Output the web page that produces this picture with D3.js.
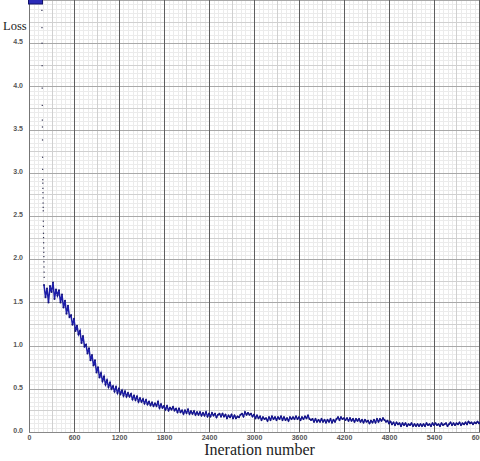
<!DOCTYPE html>
<html><head><meta charset="utf-8">
<script src="https://cdn.jsdelivr.net/npm/d3@7"></script>
<style>html,body{margin:0;padding:0;background:#fff;overflow:hidden}</style>
</head><body>
<svg id="c" width="480" height="461"></svg>
<script>
// ---- data ----
const xTicks = [0, 600, 1200, 1800, 2400, 3000, 3600, 4200, 4800, 5400, 6000];
const yTicks = [0.0, 0.5, 1.0, 1.5, 2.0, 2.5, 3.0, 3.5, 4.0, 4.5];
const xLabel = "Ineration number";
const yLabel = "Loss";

// steep initial descent (sparse samples)
const descentIter = [172,173,174,175,176,177,178,179,180,181,182,183,184,185,186,187,188,189,190,191,192,193,194,195,196,197,198,199,200,201,202];
const descentLoss = [4.88,4.68,4.50,4.24,3.98,3.78,3.61,3.53,3.38,3.18,3.04,2.92,2.88,2.82,2.77,2.71,2.65,2.60,2.56,2.44,2.38,2.30,2.25,2.19,2.13,2.08,2.03,1.97,1.91,1.85,1.79];

// main training curve, sampled every 20 iterations from 200
const mainStart = 200, mainStep = 20;
const mainLoss = [
1.70,1.56,1.66,1.50,1.69,1.62,1.73,1.54,1.65,1.58,
1.64,1.50,1.59,1.44,1.52,1.37,1.46,1.33,1.35,1.24,
1.31,1.17,1.23,1.13,1.17,1.03,1.11,0.99,1.01,0.91,
0.97,0.83,0.89,0.77,0.83,0.69,0.75,0.63,0.68,0.59,
0.64,0.55,0.60,0.52,0.57,0.50,0.53,0.47,0.52,0.45,
0.50,0.44,0.48,0.42,0.47,0.41,0.45,0.41,0.44,0.38,
0.42,0.37,0.41,0.35,0.39,0.35,0.38,0.33,0.37,0.32,
0.35,0.31,0.34,0.30,0.33,0.30,0.35,0.28,0.32,0.28,
0.30,0.26,0.30,0.25,0.28,0.26,0.29,0.25,0.27,0.23,
0.27,0.23,0.25,0.21,0.25,0.22,0.26,0.21,0.24,0.21,
0.24,0.20,0.23,0.20,0.23,0.19,0.22,0.19,0.23,0.18,
0.21,0.18,0.22,0.19,0.21,0.17,0.20,0.21,0.18,0.21,
0.18,0.20,0.16,0.19,0.17,0.20,0.16,0.19,0.16,0.18,
0.17,0.20,0.21,0.18,0.23,0.20,0.22,0.20,0.21,0.18,
0.20,0.16,0.19,0.16,0.18,0.14,0.17,0.15,0.16,0.13,
0.17,0.14,0.18,0.15,0.17,0.14,0.17,0.15,0.18,0.14,
0.17,0.14,0.16,0.13,0.17,0.15,0.17,0.15,0.18,0.15,
0.17,0.14,0.17,0.15,0.18,0.16,0.19,0.15,0.14,0.15,
0.12,0.15,0.12,0.14,0.12,0.15,0.12,0.14,0.11,0.14,
0.12,0.15,0.11,0.14,0.12,0.15,0.17,0.14,0.17,0.15,
0.16,0.14,0.16,0.13,0.16,0.13,0.15,0.12,0.15,0.13,
0.15,0.12,0.14,0.11,0.14,0.12,0.13,0.10,0.13,0.11,
0.14,0.11,0.15,0.12,0.15,0.13,0.16,0.14,0.12,0.13,
0.10,0.12,0.09,0.11,0.08,0.11,0.09,0.10,0.07,0.10,
0.08,0.10,0.07,0.09,0.08,0.10,0.07,0.09,0.07,0.09,
0.07,0.09,0.07,0.09,0.07,0.10,0.08,0.09,0.07,0.10,
0.08,0.10,0.08,0.09,0.07,0.10,0.08,0.09,0.10,0.07,
0.09,0.11,0.08,0.10,0.08,0.10,0.09,0.11,0.08,0.10,
0.09,0.11,0.09,0.12,0.10,0.11,0.09,0.11,0.10,0.12,
0.10,0.11
];

// ---- drawing ----
const svg = d3.select("#c");
svg.append("rect").attr("width",480).attr("height",461).attr("fill","#fff");

const x = d3.scaleLinear().domain([0, 6000]).range([29, 479]);
const y = d3.scaleLinear().domain([0, 5]).range([432, 0]);

const g = svg.append("g");
const minorX = d3.range(0, 6061, 60).filter(v => v % 300 !== 0);
const minorY = d3.range(0, 101, 1).map(v => v * 0.05).filter((v,i) => i % 5 !== 0);
const midX = d3.range(300, 6061, 600);
const midY = d3.range(0.25, 5.01, 0.5);

function vlines(vals, color){
  g.append("g").selectAll("line").data(vals).join("line")
    .attr("x1", d => Math.round(x(d)) + 0.5).attr("x2", d => Math.round(x(d)) + 0.5)
    .attr("y1", 0).attr("y2", y(0))
    .attr("stroke", color).attr("stroke-width", 1);
}
function hlines(vals, color){
  g.append("g").selectAll("line").data(vals).join("line")
    .attr("y1", d => Math.round(y(d)) + 0.5).attr("y2", d => Math.round(y(d)) + 0.5)
    .attr("x1", x(0)).attr("x2", 480)
    .attr("stroke", color).attr("stroke-width", 1);
}
vlines(minorX, "#ebebeb");
hlines(minorY, "#ebebeb");
vlines(midX, "#d0d0d0");
hlines(midY, "#d0d0d0");
hlines(yTicks.filter(v => v > 0).concat([5]), "#a8a8a8");
vlines(xTicks.filter(v => v > 0), "#5e5e5e");

g.append("line").attr("x1", x(0)+0.5).attr("x2", x(0)+0.5).attr("y1", 0).attr("y2", y(0))
  .attr("stroke", "#777");
g.append("line").attr("x1", x(0)).attr("x2", 480).attr("y1", y(0)+0.5).attr("y2", y(0)+0.5)
  .attr("stroke", "#888");

const yAxis = d3.axisLeft(y).tickValues(yTicks).tickSize(0).tickPadding(6).tickFormat(d3.format(".1f"));
const yg = svg.append("g").attr("transform", `translate(${x(0)},0)`).call(yAxis);
yg.select(".domain").remove();
yg.selectAll("text").attr("font-family","Liberation Sans, Arial, sans-serif").attr("font-weight","bold")
  .attr("font-size", 7).attr("fill", "#555").attr("dy", "0.1em");

const xAxis = d3.axisBottom(x).tickValues(xTicks).tickSize(0).tickPadding(3).tickFormat(d3.format("d"));
const xg = svg.append("g").attr("transform", `translate(0,${y(0)})`).call(xAxis);
xg.select(".domain").remove();
xg.selectAll("text").attr("font-family","Liberation Sans, Arial, sans-serif").attr("font-weight","bold")
  .attr("font-size", 7).attr("fill", "#555");

svg.append("text").attr("x", 3).attr("y", 30).text(yLabel)
  .attr("font-family","Liberation Serif, Times New Roman, serif").attr("font-size", 12.5).attr("fill","#222");
svg.append("text").attr("x", 259.5).attr("y", 455).attr("text-anchor","middle").text(xLabel)
  .attr("font-family","Liberation Serif, Times New Roman, serif").attr("font-size", 16).attr("fill","#222");

svg.append("rect").attr("x", 28.5).attr("y", -2).attr("width", 14).attr("height", 6)
  .attr("fill", "#2a2ab8").attr("stroke", "#10106a");

const mainData = mainLoss.map((v, i) => ({it: mainStart + i * mainStep, v}));
const descData = descentIter.map((it, i) => ({it, v: descentLoss[i]}));

svg.append("path").datum(mainData)
  .attr("d", d3.line().x(d => x(d.it)).y(d => y(d.v)))
  .attr("fill", "none").attr("stroke", "#1e1ea8").attr("stroke-width", 1.5);

svg.append("g").selectAll("circle").data(mainData).join("circle")
  .attr("cx", d => x(d.it)).attr("cy", d => y(d.v)).attr("r", 1.0).attr("fill", "#14147a");

svg.append("g").selectAll("rect").data(descData).join("rect")
  .attr("x", d => x(d.it) - 0.6).attr("y", d => y(d.v) - 0.6).attr("width", 1.2).attr("height", 1.2)
  .attr("fill", "#303050");
</script>
</body></html>
